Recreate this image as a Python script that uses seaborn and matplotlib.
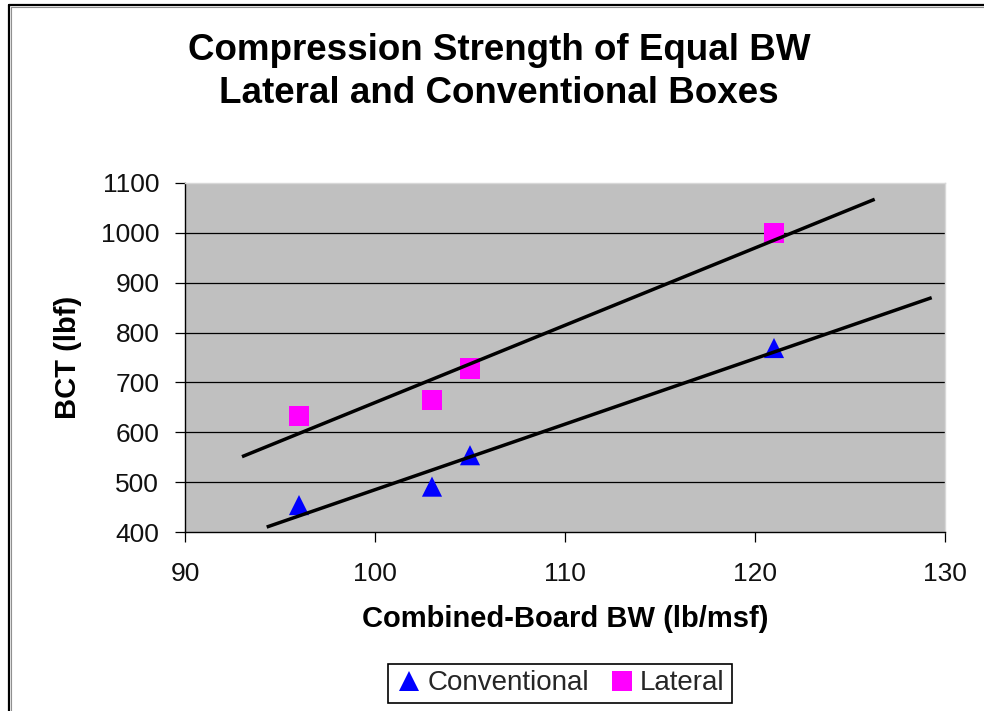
import numpy as np
import pandas as pd
import matplotlib
matplotlib.use("Agg")
import matplotlib.pyplot as plt
import seaborn as sns
from matplotlib.lines import Line2D

# ---- data ----
series_names = ["Conventional", "Lateral"]
bw_conventional = [96, 103, 105, 121]
bct_conventional = [454, 491, 554, 769]
bw_lateral = [96, 103, 105, 121]
bct_lateral = [633, 665, 728, 1000]
trend_range_conventional = [94.3, 129.3]
trend_range_lateral = [93.0, 126.3]
x_ticks = [90, 100, 110, 120, 130]
y_ticks = [400, 500, 600, 700, 800, 900, 1000, 1100]

title = "Compression Strength of Equal BW\nLateral and Conventional Boxes"
x_label = "Combined-Board BW (lb/msf)"
y_label = "BCT (lbf)"

sns.set_theme(style="white")
plt.rcParams["font.family"] = ["Liberation Sans", "DejaVu Sans"]

W, H = 984, 711
fig = plt.figure(figsize=(W / 100, H / 100), dpi=100)
fig.patch.set_facecolor("white")

ax_l, ax_r, ax_t, ax_b = 185, 945, 183, 532
ax = fig.add_axes([ax_l / W, 1 - ax_b / H, (ax_r - ax_l) / W, (ax_b - ax_t) / H])
ax.set_facecolor("#C0C0C0")

df = pd.DataFrame({
    "BW": bw_conventional + bw_lateral,
    "BCT": bct_conventional + bct_lateral,
    "Type": [series_names[0]] * len(bw_conventional) + [series_names[1]] * len(bw_lateral),
})

sns.scatterplot(
    data=df, x="BW", y="BCT", hue="Type", style="Type",
    hue_order=series_names, style_order=series_names,
    markers={"Conventional": "^", "Lateral": "s"},
    palette={"Conventional": "#0000FF", "Lateral": "#FF00FF"},
    s=210, linewidth=0, ax=ax, zorder=3,
)

# linear trendlines (least squares), extended like Excel forecasts
for xs, ys, rng in [
    (bw_conventional, bct_conventional, trend_range_conventional),
    (bw_lateral, bct_lateral, trend_range_lateral),
]:
    coef = np.polyfit(xs, ys, 1)
    xx = np.array(rng)
    ax.plot(xx, np.polyval(coef, xx), color="black", lw=2.5, zorder=4,
            solid_capstyle="butt")

ax.set_xlim(x_ticks[0], x_ticks[-1])
ax.set_ylim(y_ticks[0], y_ticks[-1])
ax.set_xticks(x_ticks)
ax.set_yticks(y_ticks)

# horizontal gridlines
for yv in y_ticks[1:-1]:
    ax.axhline(yv, color="black", lw=0.9, zorder=1)

for side in ["left", "bottom"]:
    ax.spines[side].set_color("black")
    ax.spines[side].set_linewidth(1.0)
for side in ["top", "right"]:
    ax.spines[side].set_color("#d8d8d8")
    ax.spines[side].set_linewidth(1.0)

ax.tick_params(axis="both", which="major", direction="out", length=7.5,
               width=0.9, color="black", labelsize=19, labelcolor="#111111")
ax.tick_params(axis="y", pad=11)
ax.tick_params(axis="x", pad=14)
ax.tick_params(left=True, bottom=True)

ax.set_xlabel(x_label, fontsize=21, fontweight="bold", color="black", labelpad=14)
ax.set_ylabel(y_label, fontsize=21, fontweight="bold", color="black")
ax.yaxis.set_label_coords(-0.135, 0.5)

# legend
sns.move_legend(
    ax, "center", bbox_to_anchor=((560 - ax_l) / (ax_r - ax_l), (ax_b - 683.5) / (ax_b - ax_t)),
    ncol=2, title=None, frameon=True, fancybox=False, fontsize=20,
    handletextpad=0.15, columnspacing=0.7, borderpad=0.25, handlelength=1.0,
    edgecolor="black", framealpha=1,
)
leg = ax.get_legend()
leg.get_frame().set_linewidth(1.2)
for h in leg.legend_handles:
    try:
        h.set_markersize(15)
    except Exception:
        pass

# title
fig.text(0.507, 1 - 33 / H, title, ha="center", va="top", fontsize=26.5,
         fontweight="bold", color="black", linespacing=1.28)

# chart-area border (left and top)
fig.add_artist(Line2D([9 / W, 9 / W], [0, 1 - 5 / H], color="black", lw=1.6,
                      transform=fig.transFigure))
fig.add_artist(Line2D([9 / W, 1], [1 - 5 / H, 1 - 5 / H], color="black", lw=1.6,
                      transform=fig.transFigure))
fig.add_artist(Line2D([11 / W, 11 / W], [0, 1 - 7 / H], color="#909090", lw=0.8,
                      transform=fig.transFigure))
fig.add_artist(Line2D([11 / W, 1], [1 - 7 / H, 1 - 7 / H], color="#909090", lw=0.8,
                      transform=fig.transFigure))

fig.savefig("out.png", dpi=100)
